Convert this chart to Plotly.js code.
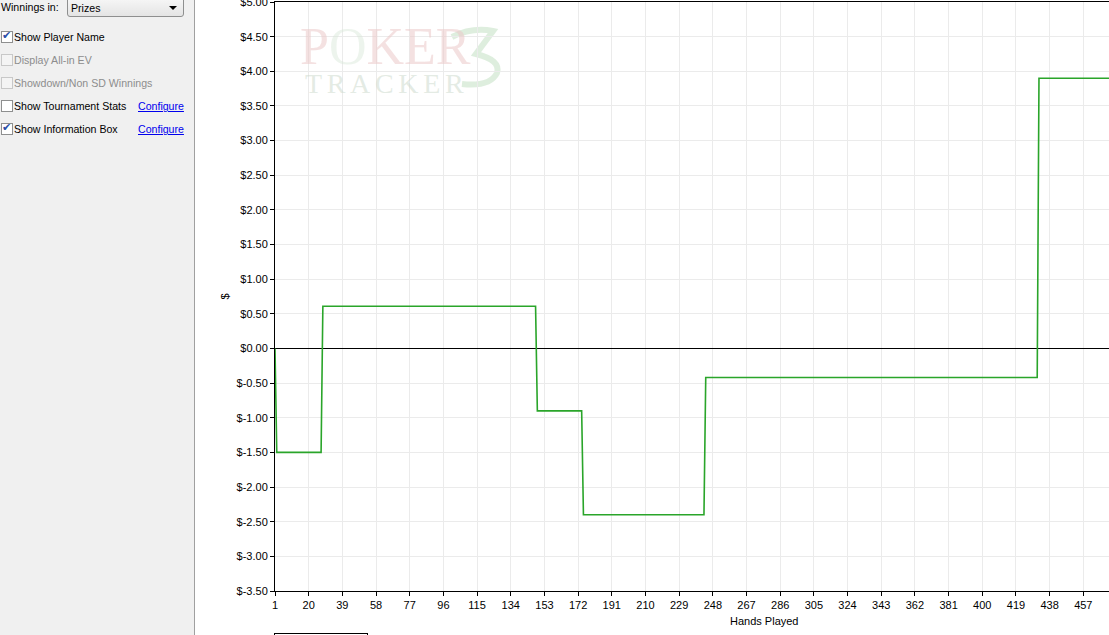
<!DOCTYPE html>
<html>
<head>
<meta charset="utf-8">
<script src="https://cdn.plot.ly/plotly-3.0.1.min.js"></script>
<style>
  html, body { margin:0; padding:0; width:1109px; height:635px; overflow:hidden; background:#fff; font-family:"Liberation Sans", Arial, sans-serif; font-size:11px; }
  #chart { position:absolute; left:0; top:0; width:1109px; height:635px; }
  #panel { position:absolute; left:0; top:0; width:194px; height:635px; background:#f0f0f0; border-right:1px solid #a0a0a0; z-index:5; }
  .lbl { position:absolute; white-space:nowrap; color:#000; font-size:10.6px; }
  .dis { color:#8d8d8d; }
  .cb { position:absolute; left:1px; width:10px; height:10px; border:1px solid #8e8f8f; background:#fff; }
  .cb.disabled { border-color:#c8c8c8; background:#f4f4f4; }
  .cb.checked::after { content:"\2714"; position:absolute; left:0px; top:-3px; font-size:11px; color:#2a4fa8; }
  .link { position:absolute; color:#0000ee; text-decoration:underline; white-space:nowrap; font-size:10.6px; }
  #dropdown { position:absolute; left:67px; top:-3px; width:115px; height:18px; border:1px solid #8e8f8f; border-radius:3px; background:linear-gradient(#f7f7f7,#e4e4e4); }
  #dropdown span { position:absolute; left:3px; top:4px; font-size:10.6px; }
  #dropdown i { position:absolute; right:6px; top:8px; width:0; height:0; border-left:4px solid transparent; border-right:4px solid transparent; border-top:4px solid #000; }
  #legendbox { position:absolute; left:274px; top:633px; width:92px; height:10px; border:1px solid #000; background:#fff; }
</style>
</head>
<body>
<div id="chart"></div>
<div id="panel">
  <div class="lbl" style="left:1px;top:1px;">Winnings in:</div>
  <div id="dropdown"><span>Prizes</span><i></i></div>

  <div class="cb checked" style="top:31px;"></div>
  <div class="lbl" style="left:14px;top:31px;">Show Player Name</div>

  <div class="cb disabled" style="top:54px;"></div>
  <div class="lbl dis" style="left:14px;top:54px;">Display All-in EV</div>

  <div class="cb disabled" style="top:77px;"></div>
  <div class="lbl dis" style="left:14px;top:77px;">Showdown/Non SD Winnings</div>

  <div class="cb" style="top:100px;"></div>
  <div class="lbl" style="left:14px;top:100px;">Show Tournament Stats</div>
  <div class="link" style="left:138px;top:100px;">Configure</div>

  <div class="cb checked" style="top:123px;"></div>
  <div class="lbl" style="left:14px;top:123px;">Show Information Box</div>
  <div class="link" style="left:138px;top:123px;">Configure</div>
</div>
<div id="legendbox"></div>
<script>
// Data
const hands     = [1, 2, 27, 28, 148, 149, 174, 175, 243, 244, 431, 432, 472];
const winnings  = [0, -1.5, -1.5, 0.61, 0.61, -0.9, -0.9, -2.4, -2.4, -0.42, -0.42, 3.9, 3.9];

const yTickVals = [-3.5, -3, -2.5, -2, -1.5, -1, -0.5, 0, 0.5, 1, 1.5, 2, 2.5, 3, 3.5, 4, 4.5, 5];
const yTickText = ["$-3.50","$-3.00","$-2.50","$-2.00","$-1.50","$-1.00","$-0.50","$0.00","$0.50",
                   "$1.00","$1.50","$2.00","$2.50","$3.00","$3.50","$4.00","$4.50","$5.00"];
const xTick0 = 1, xDtick = 19;

const trace = {
  x: hands, y: winnings, type: 'scatter', mode: 'lines',
  line: { color: '#2aa52a', width: 1.6 },
  hoverinfo: 'skip'
};

const font = { family: '"Liberation Sans", Arial, sans-serif', size: 11, color: '#000' };

// watermark "3" logo stroke, given in pixel positions and converted to paper coords
const PL = 275, PR = 1109, PT = 2, PB = 591;
function px(x) { return ((x - PL) / (PR - PL)).toFixed(4); }
function py(y) { return (1 - (y - PT) / (PB - PT)).toFixed(4); }
const threePath =
  'M' + px(452) + ',' + py(37) +
  ' Q' + px(472) + ',' + py(27) + ' ' + px(493) + ',' + py(31) +
  ' L' + px(476) + ',' + py(54) +
  ' Q' + px(501) + ',' + py(60) + ' ' + px(497) + ',' + py(73) +
  ' Q' + px(490) + ',' + py(87) + ' ' + px(462) + ',' + py(84);

const sp = '\u2006';

const layout = {
  width: 1109, height: 635,
  margin: { l: 275, r: 0, t: 2, b: 44, pad: 0 },
  paper_bgcolor: '#fff', plot_bgcolor: '#fff',
  showlegend: false,
  font: font,
  xaxis: {
    range: [1, 471.5], tickmode: 'linear', tick0: xTick0, dtick: xDtick,
    showgrid: true, gridcolor: '#ebebeb', gridwidth: 1,
    showline: true, linecolor: '#000', linewidth: 1, mirror: true,
    ticks: 'outside', ticklen: 4, tickcolor: '#000',
    zeroline: false, tickfont: font, fixedrange: true, ticklabeloverflow: 'allow'
  },
  yaxis: {
    range: [-3.5, 5], tickmode: 'array', tickvals: yTickVals, ticktext: yTickText,
    showgrid: true, gridcolor: '#ebebeb', gridwidth: 1,
    showline: true, linecolor: '#000', linewidth: 1,
    ticks: 'outside', ticklen: 4, tickcolor: '#000',
    zeroline: true, zerolinecolor: '#000', zerolinewidth: 1,
    tickfont: font, fixedrange: true, ticklabeloverflow: 'allow',
    title: { text: '$', font: font, standoff: 4 }
  },
  shapes: [
    { type: 'path', xref: 'paper', yref: 'paper', path: threePath, layer: 'below',
      line: { color: 'rgba(200,226,200,0.6)', width: 6 }, fillcolor: 'rgba(0,0,0,0)' }
  ],
  annotations: [
    { text: 'Hands Played', xref: 'paper', yref: 'paper', x: 0.5875, y: 0, yshift: -30,
      xanchor: 'center', yanchor: 'middle', showarrow: false, font: font },
    { text: 'P<span style="color:rgba(215,230,215,0.8)">O</span>KER', xref: 'paper', yref: 'paper', x: 0.133, y: 0.925,
      xanchor: 'center', yanchor: 'middle', showarrow: false,
      font: { family: '"Liberation Serif", serif', size: 52, color: 'rgba(235,200,200,0.55)' } },
    { text: ['T','R','A','C','K','E','R'].join(sp), xref: 'paper', yref: 'paper', x: 0.131, y: 0.861,
      xanchor: 'center', yanchor: 'middle', showarrow: false,
      font: { family: '"Liberation Serif", serif', size: 28, color: 'rgba(205,218,205,0.55)' } }
  ]
};

Plotly.newPlot('chart', [trace], layout, { staticPlot: true, displayModeBar: false });
</script>
</body>
</html>
